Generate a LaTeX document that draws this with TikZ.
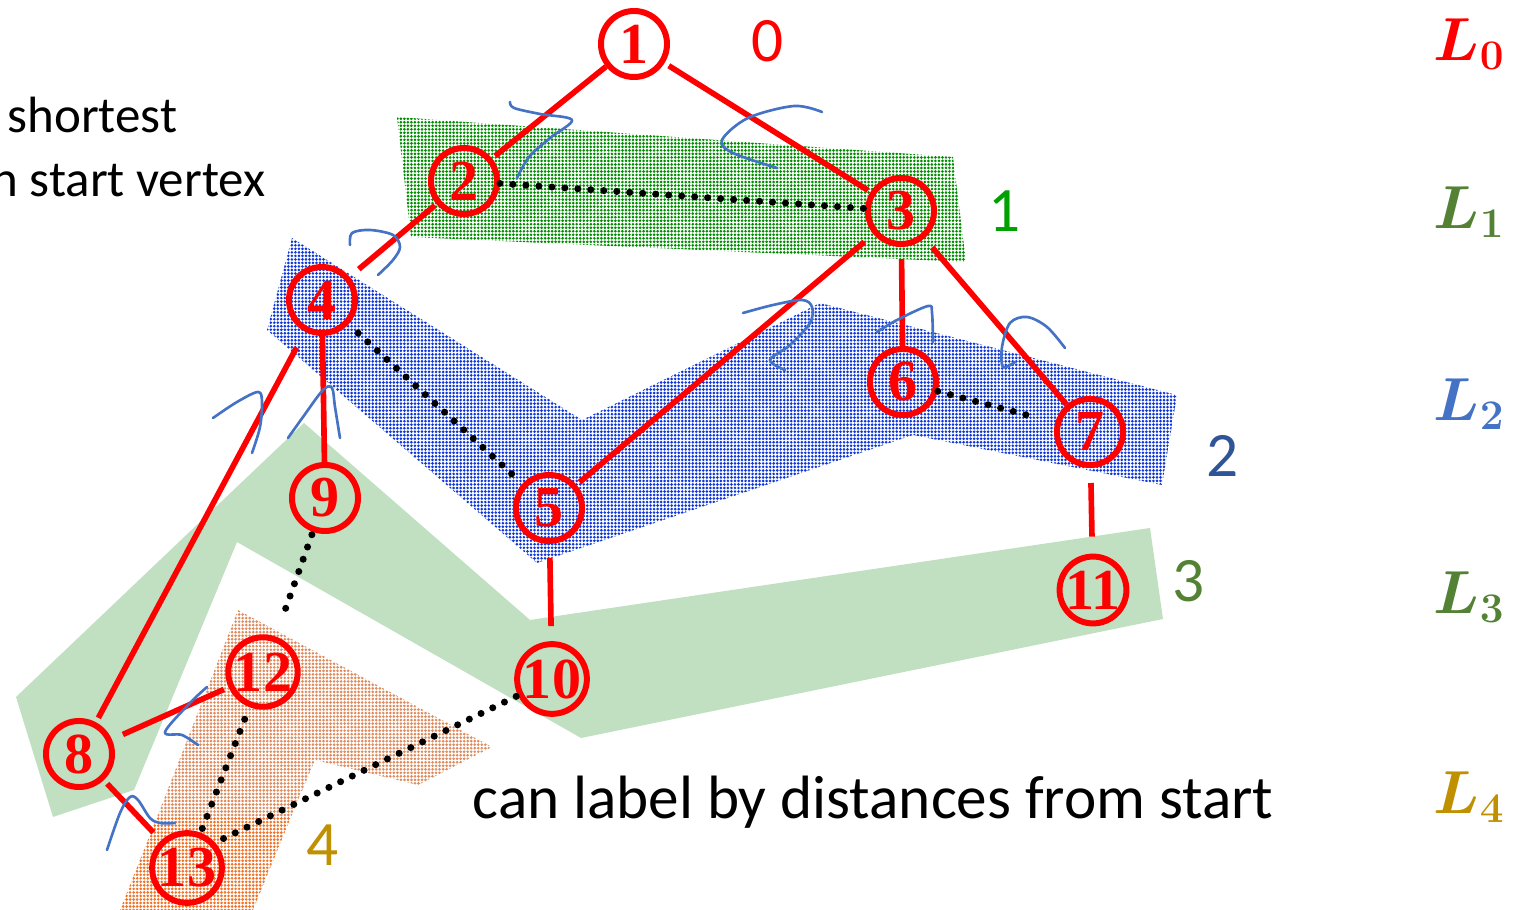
\documentclass[tikz,border=0pt]{standalone}
\usepackage{fontspec}
\setmainfont{Liberation Serif}
\newfontfamily\calibri{Carlito}
\usetikzlibrary{patterns.meta}

\definecolor{inkblue}{RGB}{68,114,196}
\definecolor{layerone}{RGB}{0,140,0}
\definecolor{layertwo}{RGB}{15,55,215}
\definecolor{layerthree}{RGB}{193,223,193}
\definecolor{layerfour}{RGB}{222,140,95}
\definecolor{layerfourdeep}{RGB}{240,115,40}
\definecolor{olivegreen}{RGB}{84,130,53}
\definecolor{brightgreen}{RGB}{0,160,0}
\definecolor{navy}{RGB}{47,85,151}
\definecolor{gold}{RGB}{191,144,0}

\tikzset{
  vtx/.style={circle, draw=red, line width=1.7pt, minimum size=0.66cm,
    inner sep=0pt, text=red, font=\bfseries\fontsize{16.5}{16.5}\selectfont},
  tree/.style={draw=red, line width=1.6pt},
  cross/.style={draw=black, line width=2pt, dash pattern=on 0pt off 3.7pt,
    line cap=round},
  ink/.style={draw=inkblue, line width=0.75pt, line cap=round, line join=round},
  dist/.style={font=\calibri\fontsize{18}{18}\selectfont, anchor=base,
    inner sep=0pt},
  lev/.style={font=\fontsize{16.5}{16.5}\selectfont\boldmath, anchor=east,
    inner sep=0pt},
  txt/.style={font=\calibri\fontsize{14.5}{14.5}\selectfont,
    anchor=base east, inner sep=0pt},
  dotfill/.style={pattern={Dots[distance=1pt, radius=0.42pt]},
    pattern color=#1},
}

\begin{document}
\begin{tikzpicture}[x=0.01cm, y=-0.01cm]
\useasboundingbox (0,0) rectangle (1524,910);

% layer bands
\fill[layerthree] (16,697) -- (304,423) -- (530,620) -- (1150,528)
  -- (1163,619) -- (581,738) -- (237,542) -- (134,790) -- (53,817) -- cycle;
\fill[dotfill=layertwo] (292,238) -- (582,420) -- (820,303) -- (1177,395)
  -- (1162,485) -- (913,435) -- (537,563) -- (267,330) -- cycle;
\fill[dotfill=layerone] (397,117) -- (953,157) -- (966,262) -- (411,237) -- cycle;
\fill[dotfill=layerfour] (238,610) -- (492,747) -- (418,785) -- (315,760)
  -- (291,817) -- (157,817) -- cycle;
\fill[dotfill=layerfourdeep] (157,817) -- (291,817) -- (253,910) -- (120,910) -- cycle;

% vertices
\node[vtx] (n1)  at (634,44)  {1};
\node[vtx] (n2)  at (464,181) {2};
\node[vtx] (n3)  at (901,211) {3};
\node[vtx] (n4)  at (322,300) {4};
\node[vtx] (n5)  at (549,508) {5};
\node[vtx] (n6)  at (903,382) {6};
\node[vtx] (n7)  at (1090,432) {7};
\node[vtx] (n8)  at (79,754)  {8};
\node[vtx] (n9)  at (325,498) {9};
\node[vtx] (n10) at (552,679) {10};
\node[vtx] (n11) at (1093,590) {11};
\node[vtx] (n12) at (263,672) {12};
\node[vtx] (n13) at (187,868) {13};

% tree edges
\draw[tree, shorten >=0.04cm] (n1) -- (n2);
\draw[tree, shorten <=0.05cm, shorten >=0.03cm] (n1) -- (n3);
\draw[tree, shorten <=0.02cm, shorten >=0.12cm] (n2) -- (n4);
\draw[tree, shorten <=0.12cm, shorten >=0.04cm] (n3) -- (n5);
\draw[tree, shorten <=0.12cm] (n3) -- (n6);
\draw[tree, shorten <=0.12cm] (n3) -- (n7);
\draw[tree, shorten <=0.18cm, shorten >=0.05cm] (n4) -- (n8);
\draw[tree] (n4) -- (n9);
\draw[tree, shorten <=0.14cm, shorten >=0.15cm] (n5) -- (n10);
\draw[tree, shorten <=0.15cm, shorten >=0.17cm] (n7) -- (n11);
\draw[tree, shorten <=0.12cm, shorten >=0.05cm] (n8) -- (n12);
\draw[tree, shorten <=0.05cm, shorten >=0.11cm] (n8) -- (n13);

% non-tree edges
\draw[cross] (n2) -- (n3);
\draw[cross, shorten <=0.13cm, shorten >=0.02cm] (n4) -- (n5);
\draw[cross, shorten >=0.18cm] (n6) -- (n7);
\draw[cross, shorten <=0.03cm, shorten >=0.18cm] (n9) -- (n12);
\draw[cross, shorten <=0.13cm] (n12) -- (n13);
\draw[cross, shorten <=0.02cm, shorten >=0.08cm] (n10) -- (n13.42);

% hand-drawn cut marks
\draw[ink] plot[smooth, tension=0.55] coordinates
  {(510,102) (514,108) (540,114) (572,120) (550,138) (529,157) (517,178)};
\draw[ink] plot[smooth, tension=0.55] coordinates
  {(822,112) (794,106) (748,118) (722,140) (733,153) (777,168)};
\draw[ink] plot[smooth, tension=0.55] coordinates
  {(350,245) (352,233) (370,230) (393,235) (400,247) (393,260) (378,275)};
\draw[ink] plot[smooth, tension=0.55] coordinates
  {(213,418) (237,402) (258,392) (262,402) (260,427) (252,453)};
\draw[ink] plot[smooth, tension=0.55] coordinates
  {(288,438) (303,417) (323,390) (332,388) (335,407) (340,438)};
\draw[ink] plot[smooth, tension=0.55] coordinates
  {(743,313) (773,305) (802,300) (812,307) (810,323) (790,345) (770,360) (785,370)};
\draw[ink] plot[smooth, tension=0.55] coordinates
  {(877,332) (897,320) (928,306) (932,313) (933,342)};
\draw[ink] plot[smooth, tension=0.55] coordinates
  {(1015,362) (1003,367) (1002,347) (1010,323) (1027,317) (1047,327) (1065,348)};
\draw[ink] plot[smooth, tension=0.55] coordinates
  {(207,687) (190,703) (165,732) (182,735) (198,745)};
\draw[ink] plot[smooth, tension=0.55] coordinates
  {(107,850) (120,813) (130,797) (138,800) (150,818) (160,823) (175,823)};

% distance labels
\node[dist, text=red]         (d0) at (768,62)  {0};
\node[dist, text=brightgreen] (d1) at (1005,232) {1};
\node[dist, text=navy]        (d2) at (1223,477) {2};
\node[dist, text=olivegreen]  (d3) at (1189,602) {3};
\node[dist, text=gold]        (d4) at (323,866) {4};

% layer names
\node[lev, text=red]        (l0) at (1506,44)  {$L_0$};
\node[lev, text=olivegreen] (l1) at (1506,212) {$L_1$};
\node[lev, text=inkblue]    (l2) at (1506,404) {$L_2$};
\node[lev, text=olivegreen] (l3) at (1506,597) {$L_3$};
\node[lev, text=gold]       (l4) at (1506,797) {$L_4$};

% captions
\node[txt] (c1) at (178,133) {shortest};
\node[txt] (c2) at (266,197) {n start vertex};
\node[font=\calibri\fontsize{17.4}{17.4}\selectfont, anchor=base west,
  inner sep=0pt] (c3) at (472,818) {can label by distances from start};
\end{tikzpicture}
\end{document}
